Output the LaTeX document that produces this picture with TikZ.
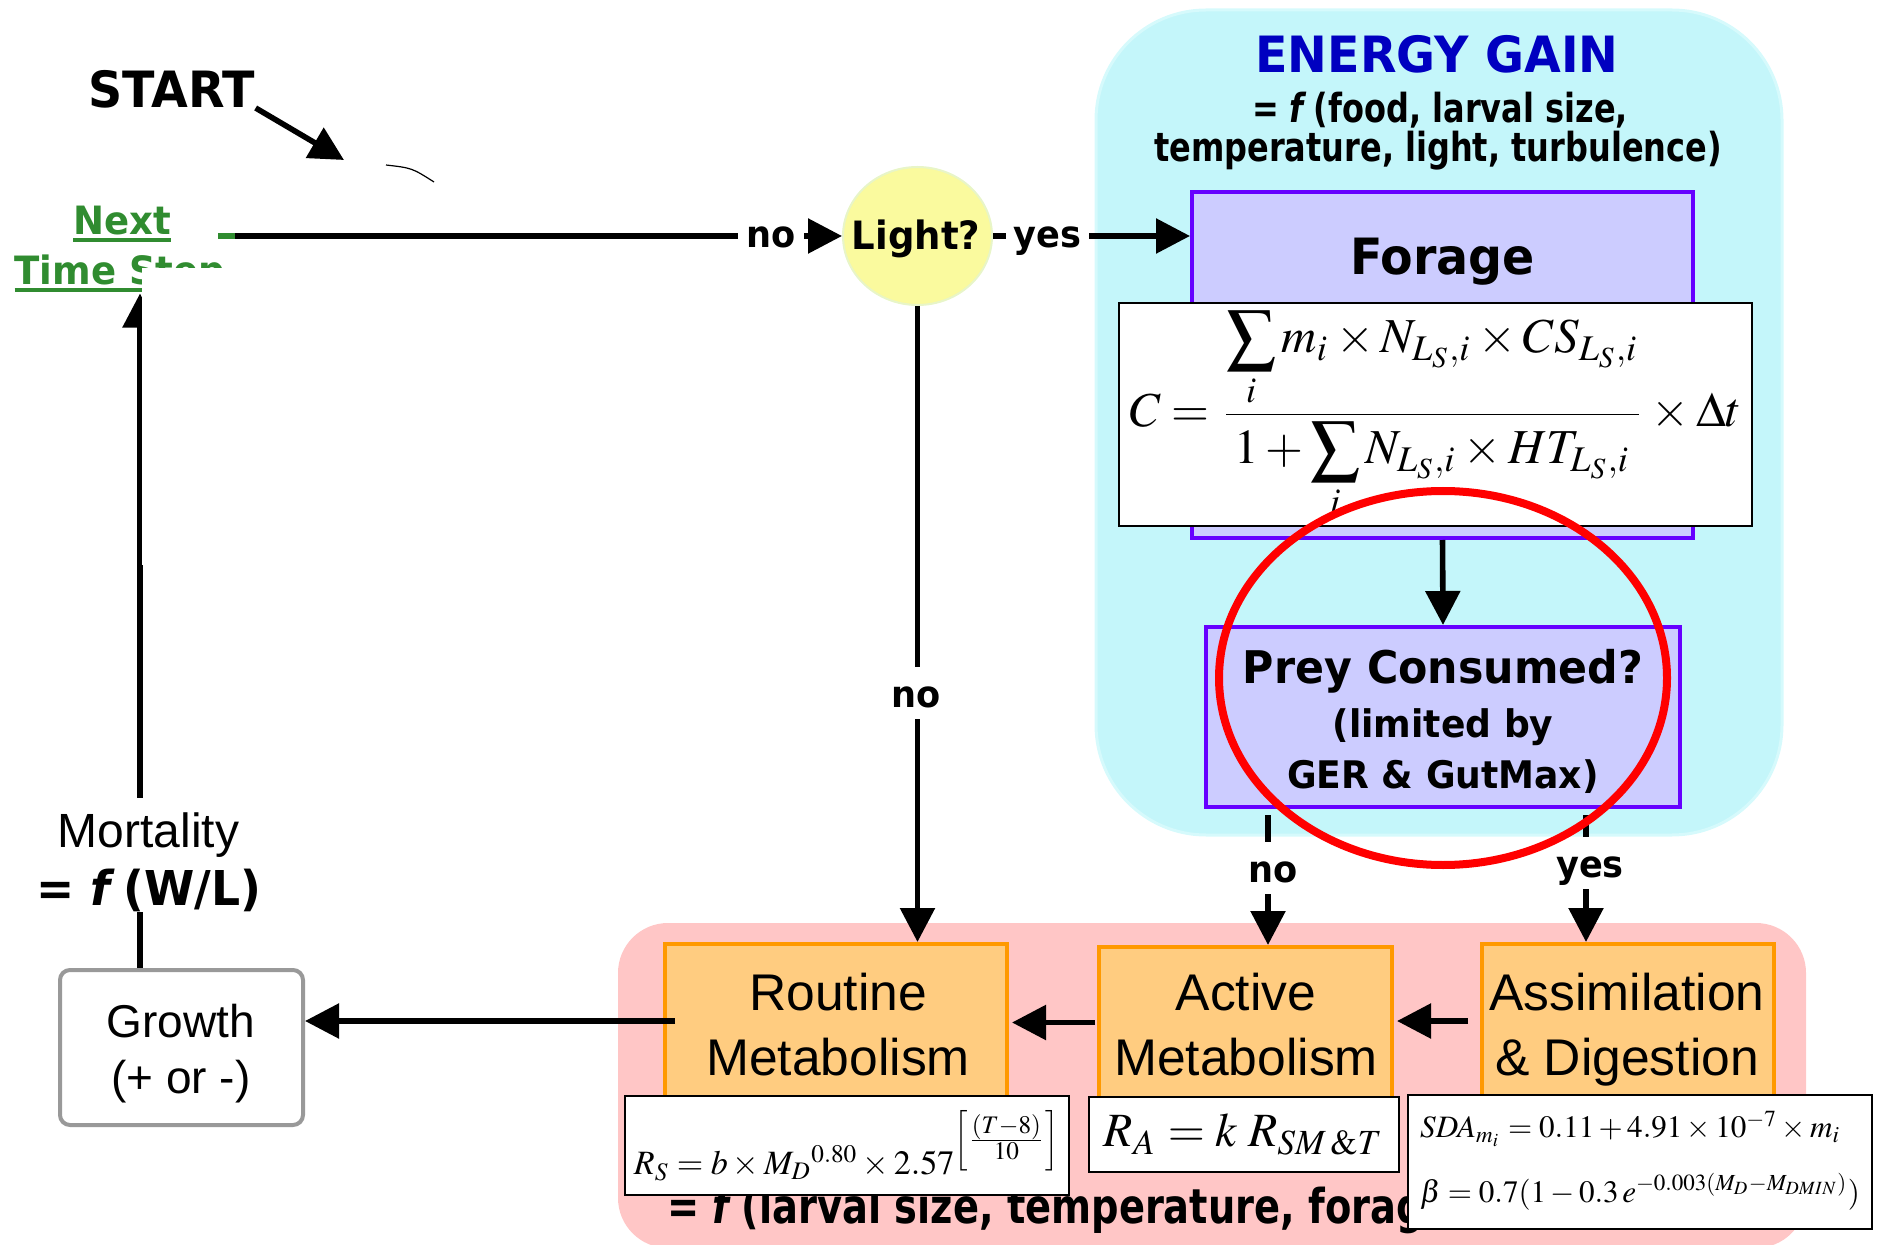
\documentclass[tikz,border=0pt]{standalone}
\usepackage{mathptmx}
\usepackage[no-math]{fontspec}
\usepackage{graphicx}
\usetikzlibrary{arrows.meta,shapes.geometric}
\newfontfamily\bsf[FakeStretch=0.95]{DejaVu Sans}
\newfontfamily\csf[FakeStretch=0.8]{DejaVu Sans}
\newfontfamily\asf{Liberation Sans}
\definecolor{cyanbg}{RGB}{196,246,250}
\definecolor{cyanbd}{RGB}{214,250,252}
\definecolor{lav}{RGB}{204,204,255}
\definecolor{purp}{RGB}{102,0,255}
\definecolor{pinkbg}{RGB}{255,198,198}
\definecolor{orfill}{RGB}{255,204,128}
\definecolor{orbd}{RGB}{255,153,0}
\definecolor{yel}{RGB}{250,250,158}
\definecolor{yelbd}{RGB}{232,245,200}
\definecolor{grn}{RGB}{48,140,48}
\definecolor{egblue}{RGB}{0,0,192}
\definecolor{grayb}{RGB}{153,153,153}
\newcommand{\myul}[1]{\sbox0{#1}\rlap{\rule[-3.5pt]{\wd0}{2pt}}\usebox0}
\newcommand{\fsz}[1]{\fontsize{#1pt}{#1pt}\selectfont}
\tikzset{
  conn/.style={draw=black, line width=2.8pt},
  arr/.style={conn, -{Triangle[length=17pt,width=17pt]}},
  txt/.style={inner sep=0pt, anchor=base},
  lbl/.style={fill=white, inner xsep=4pt, inner ysep=2pt, text height=18pt, text depth=4pt, anchor=base, font=\bsf\bfseries\fsz{18.5}},
  obox/.style={draw=orbd, fill=orfill, line width=2pt, inner sep=0pt},
  pbox/.style={draw=purp, fill=lav, line width=2pt, inner sep=0pt},
  eqbox/.style={draw=black, fill=white, line width=1pt, inner sep=0pt},
  region/.style={inner sep=0pt},
  btxt/.style={txt, font=\bsf\bfseries\fsz{#1}},
  ctxt/.style={txt, font=\csf\bfseries\fsz{#1}},
  ntxt/.style={txt, font=\asf\fsz{#1}},
}
\begin{document}
\begin{tikzpicture}[x=0.5pt,y=-0.5pt]
\useasboundingbox (0,0) rectangle (1878,1245);

% background regions
\node[region, draw=cyanbd, line width=1.5pt, fill=cyanbg, rounded corners=55pt, minimum width=343pt, minimum height=412.5pt] (gainbg) at (1439,422.5) {};
\node[region, fill=pinkbg, rounded corners=25pt, minimum width=594pt, minimum height=162.5pt] (lossbg) at (1212,1085.5) {};

% energy gain title
\node[btxt=25, text=egblue] (gaintitle) at (1437,73) {ENERGY GAIN};
\node[ctxt=20] (gainA) at (1440,123) {= \textit{f}\,(food, larval size,};
\node[ctxt=20] (gainB) at (1438,162) {temperature, light, turbulence)};

% START
\node[btxt=25] (start) at (172,108) {START};
\coordinate (starttip) at (344,160);
\draw[arr] (start.base east) -- (starttip);
\draw[line width=0.6pt] (386,165) .. controls (412,168) .. (434,182);

% Next time step
\node[btxt=19.5, text=grn] (next) at (122,235) {\myul{Next}};
\node[btxt=19.5, text=grn] (timestep) at (120,285) {\myul{Time Step}};

% Mortality
\node[ntxt=24, inner ysep=7pt] (mortA) at (148.5,847) {Mortality};
\node[btxt=24] (mortB) at (149,905) {= \textit{f}\,(W/L)};
\coordinate (vx) at (140,0);
\draw[arr] (mortA.north -| vx) -- (timestep.south -| vx);
\fill[white] (141.5,268) rectangle (330,565);

% Growth
\node[draw=grayb, fill=white, line width=2pt, rounded corners=5pt, minimum width=121.5pt, minimum height=77.5pt, inner sep=0pt] (growth) at (181.5,1047.5) {};
\node[ntxt=23] (growthA) at (181,1037) {Growth};
\node[ntxt=23] (growthB) at (181,1093) {(+ or -)};
\draw[conn] (growth.north -| vx) -- (mortB.south -| vx);

% Light decision
\coordinate (nextout) at (218,236);
\node[ellipse, fill=yel, draw=yelbd, line width=1pt, minimum width=74.5pt, minimum height=69pt, inner sep=0pt] (light) at (917.5,236) {};
\node[btxt=19.5] (lighttxt) at (916,250) {Light?};
\draw[arr] (nextout) -- (light.west);
\draw[grn, line width=2.8pt] (nextout) -- ++(17,0);
\node[lbl] (lno1) at (771,248) {no};

% Forage
\node[pbox, minimum width=250.5pt, minimum height=173pt] (forage) at (1442.5,365) {};
\node[btxt=25] (foragetxt) at (1442.5,275) {Forage};
\node[eqbox, minimum width=316.5pt, minimum height=111.5pt] (ceq) at (1435.5,414.5)
  {\resizebox{306pt}{!}{$\displaystyle C=\frac{\displaystyle\sum_{i} m_i\times N_{L_S,i}\times CS_{L_S,i}}{\displaystyle 1+\sum_{i} N_{L_S,i}\times HT_{L_S,i}}\times\Delta t$}};
\draw[arr] (light.east) -- (light.east -| forage.west);
\node[lbl] (lyes1) at (1047.5,248) {yes};

% Prey consumed
\node[pbox, minimum width=237pt, minimum height=90pt] (prey) at (1443,717) {};
\node[btxt=22.5] (preyA) at (1443,683) {Prey Consumed?};
\node[btxt=19] (preyB) at (1443,737) {(limited by};
\node[btxt=19] (preyC) at (1443,788) {GER \& GutMax)};
\draw[arr] (forage.south) -- (prey.north);

% metabolism boxes
\node[obox, minimum width=171pt, minimum height=77pt] (routine) at (836,1021) {};
\node[ntxt=25.8] (routA) at (838,1010) {Routine};
\node[ntxt=25.8] (routB) at (838,1075) {Metabolism};
\node[obox, minimum width=146.5pt, minimum height=75.5pt] (active) at (1245.5,1022.5) {};
\node[ntxt=25.8] (actA) at (1246,1010) {Active};
\node[ntxt=25.8] (actB) at (1246,1075) {Metabolism};
\node[obox, minimum width=146pt, minimum height=77pt] (assim) at (1628,1021) {};
\node[ntxt=25.8] (asA) at (1627,1010) {Assimilation};
\node[ntxt=25.8] (asB) at (1627,1075) {\& Digestion};

% connectors
\draw[arr] (light.south) -- (light.south |- routine.north);
\node[lbl] (lno2) at (916,707) {no};
\coordinate (pnox) at (1268,0);
\coordinate (pyesx) at (1586,0);
\draw[arr, shorten <=3pt] (prey.south -| pnox) -- (pnox |- active.north);
\node[lbl] (lno3) at (1273,882) {no};
\draw[arr, shorten <=3pt] (prey.south -| pyesx) -- (pyesx |- assim.north);
\node[lbl] (lyes2) at (1590,877) {yes};
\draw[arr, shorten <=6pt, shorten >=1.5pt] (assim.west) -- (assim.west -| active.east);
\draw[arr, shorten <=1pt, shorten >=1.5pt] (active.west) -- (active.west -| routine.east);
\draw[arr, shorten <=-6pt] (routine.west) -- (routine.west -| growth.east);

% energy loss text and equations
\node[txt, anchor=base west, font=\csf\bfseries\fsz{24}] (losstxt) at (667,1223) {= \textit{f}\,(larval size, temperature, forag};
\node[eqbox, minimum width=222pt, minimum height=49.5pt] (rseq) at (847,1145.5)
  {\resizebox{213pt}{!}{$R_S=b\times M_D{}^{0.80}\times 2.57^{\left[\frac{\scriptstyle (T-8)}{\scriptstyle 10}\right]}$}};
\node[eqbox, minimum width=155pt, minimum height=37.5pt] (raeq) at (1244,1134.5)
  {\resizebox{140pt}{!}{$R_A=k\;R_{SM\,\&T}$}};
\node[eqbox, minimum width=232pt, minimum height=67pt] (sdaeq) at (1640,1162)
  {\resizebox{220pt}{!}{\begin{tabular}{@{}l@{}}$SDA_{m_i}=0.11+4.91\times10^{-7}\times m_i$\\[8pt]$\beta=0.7(1-0.3\,e^{-0.003(M_D-M_{DMIN})})$\end{tabular}}};

% red highlight
\node[ellipse, draw=red, line width=4pt, minimum width=224pt, minimum height=187pt, inner sep=0pt] (focus) at (1443,678) {};
\end{tikzpicture}
\end{document}
